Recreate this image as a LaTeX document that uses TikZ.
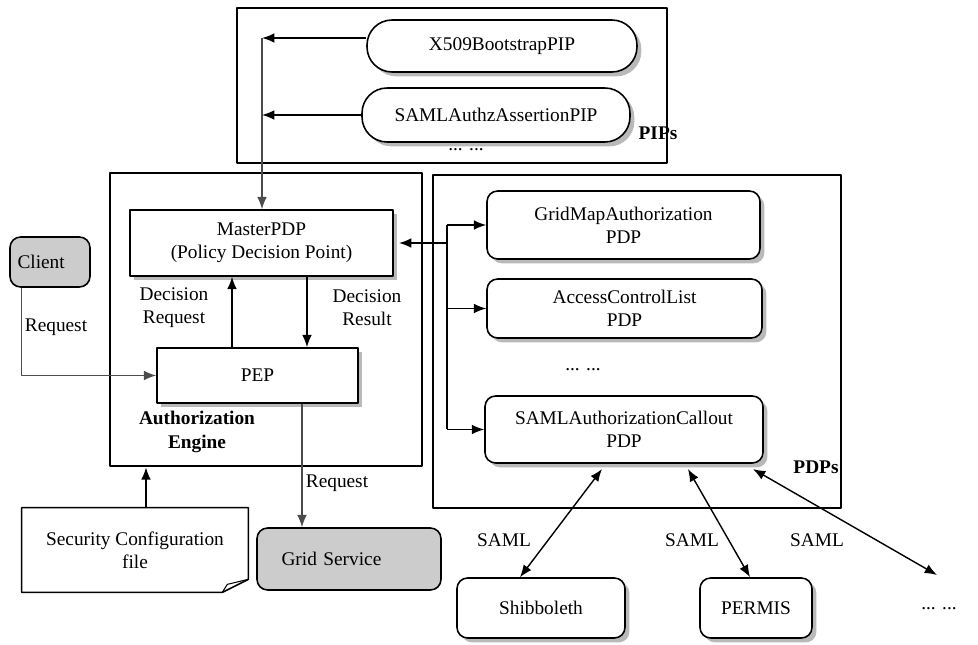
\documentclass[tikz,border=0pt]{standalone}
\usepackage{fontspec}
\setmainfont{Liberation Serif}
\usetikzlibrary{arrows.meta,shadows,calc}

\begin{document}
\begin{tikzpicture}[x=0.02cm, y=-0.02cm, line join=round,
  every node/.style={font=\fontsize{11}{13}\selectfont},
  frame/.style={draw, line width=1.6pt, inner sep=0pt},
  box/.style={draw, line width=0.9pt, fill=white, align=center, inner sep=2pt,
    drop shadow={shadow xshift=2.5pt, shadow yshift=-2.5pt, fill=gray!55, opacity=1}},
  rbox/.style={box, rounded corners=6pt},
  pill/.style={box, rounded corners=0.5cm},
  gbox/.style={draw, line width=0.9pt, fill=gray!40, rounded corners=6pt, inner sep=2pt},
  arr/.style={-{Latex[length=7pt,width=5.5pt]}, line width=0.8pt},
  darr/.style={{Latex[length=7pt,width=5.5pt]}-{Latex[length=7pt,width=5.5pt]}, line width=0.8pt},
  glink/.style={arr, draw=gray!60!black, line width=0.7pt},
  lbl/.style={align=center, inner sep=0pt},
  tag/.style={font=\fontsize{11}{13}\selectfont\bfseries, align=center, inner sep=0pt}]
\useasboundingbox (0,0) rectangle (978,645);
% frames
\node[frame, minimum width=8.6cm, minimum height=3.1cm] (pips) at (452,85.5) {};
\node[frame, minimum width=6.24cm, minimum height=5.86cm] (engine) at (266,319.5) {};
\node[frame, minimum width=8.16cm, minimum height=6.66cm] (pdps) at (637,341.5) {};
% PIPs
\node[pill, minimum width=5.4cm, minimum height=1.04cm] (x509) at (502,46) {X509BootstrapPIP};
\node[pill, minimum width=5.36cm, minimum height=1.08cm] (samlpip) at (496,115) {SAMLAuthzAssertionPIP};
\node[lbl] (pipdots) at (466,150) {... ...};
\node[tag] (piptag) at (658,133) {PIPs};
\coordinate (pipbus) at (262,38);
% engine
\node[box, minimum width=5.26cm, minimum height=1.32cm] (master) at (261.5,243) {MasterPDP\\(Policy Decision Point)};
\node[box, minimum width=4.02cm, minimum height=1.1cm] (pep) at (257.5,375.5) {PEP};
\node[lbl] (decreq) at (174,308) {Decision\\Request};
\node[lbl] (decres) at (367,308) {Decision\\Result};
\node[tag] (engtag) at (197,432) {Authorization\\[1pt]Engine};
% outside
\node[gbox, minimum width=1.6cm, minimum height=1.0cm, text width=1.3cm, align=left] (client) at (50,262) {Client};
\node[lbl] (clreq) at (56,327) {Request};
\node[gbox, minimum width=3.68cm, minimum height=1.24cm, text width=3.2cm, align=left] (grid) at (349,559) {\hspace*{0.25cm}Grid Service};
\node[lbl] (gridreq) at (337,483) {Request};
\node[minimum width=4.52cm, minimum height=1.68cm, align=center] (sec) at (135,550) {Security Configuration\\file};
\draw[line width=0.9pt] (sec.north west) -- (sec.north east) -- ([yshift=0.26cm]sec.south east)
  .. controls ([xshift=-0.25cm,yshift=0.12cm]sec.south east) .. ([xshift=-0.52cm]sec.south east)
  -- (sec.south west) -- cycle;
\draw[line width=0.6pt] ([yshift=0.26cm]sec.south east) -- ([xshift=-0.42cm,yshift=0.16cm]sec.south east)
  -- ([xshift=-0.52cm]sec.south east);
% PDPs
\node[rbox, minimum width=5.46cm, minimum height=1.36cm] (gridmap) at (623.5,225) {GridMapAuthorization\\PDP};
\node[rbox, minimum width=5.5cm, minimum height=1.18cm] (acl) at (624.5,308.5) {AccessControlList\\PDP};
\node[lbl] (pdpdots) at (583,370) {... ...};
\node[rbox, minimum width=5.56cm, minimum height=1.34cm] (callout) at (624,429.5) {SAMLAuthorizationCallout\\PDP};
\node[tag] (pdptag) at (816,467) {PDPs};
\coordinate (pdpbus) at (447,243);
% external services
\node[rbox, minimum width=3.36cm, minimum height=1.2cm] (shib) at (541,608) {Shibboleth};
\node[rbox, minimum width=2.24cm, minimum height=1.2cm] (permis) at (756,608) {PERMIS};
\node[lbl] (etc) at (939,609) {... ...};
\coordinate (etcend) at (937,575);
\node[lbl] (saml1) at (504,540) {SAML};
\node[lbl] (saml2) at (692,540) {SAML};
\node[lbl] (saml3) at (817,540) {SAML};
% connectors
\draw[glink] (pipbus) -- (pipbus |- master.north);
\draw[arr, line width=1pt] (x509.west |- pipbus) -- (pipbus);
\draw[arr] (samlpip.west) -- (samlpip.west -| pipbus);
\draw[arr] ([xshift=-0.51cm]pep.north) -- ([xshift=-0.51cm]pep.north |- master.south);
\draw[arr] ([xshift=0.91cm]master.south) -- ([xshift=0.91cm]master.south |- pep.north);
\draw[arr] (pdpbus) -- ([xshift=3pt]master.east |- pdpbus);
\draw[line width=0.8pt] (pdpbus |- gridmap.west) -- (pdpbus |- callout.west);
\draw[arr] (pdpbus |- gridmap.west) -- (gridmap.west);
\draw[arr] (pdpbus |- acl.west) -- (acl.west);
\draw[arr] (pdpbus |- callout.west) -- (callout.west);
\draw[glink] ([xshift=0.24cm]client.south west) -- ([xshift=0.24cm]client.south west |- pep.west) -- (pep.west);
\draw[glink] ([xshift=0.89cm]pep.south) -- ([xshift=0.89cm]pep.south |- grid.north);
\draw[arr] ([xshift=0.22cm]sec.north) -- ([xshift=0.22cm]sec.north |- engine.south);
\draw[darr] ([xshift=-0.44cm,yshift=-3pt]callout.south) -- ([xshift=-0.42cm]shib.north);
\draw[darr] ([xshift=1.28cm,yshift=-3pt]callout.south) -- ([xshift=-0.12cm]permis.north);
\draw[darr] ([xshift=2.58cm,yshift=-3pt]callout.south) -- (etcend);
\end{tikzpicture}
\end{document}
